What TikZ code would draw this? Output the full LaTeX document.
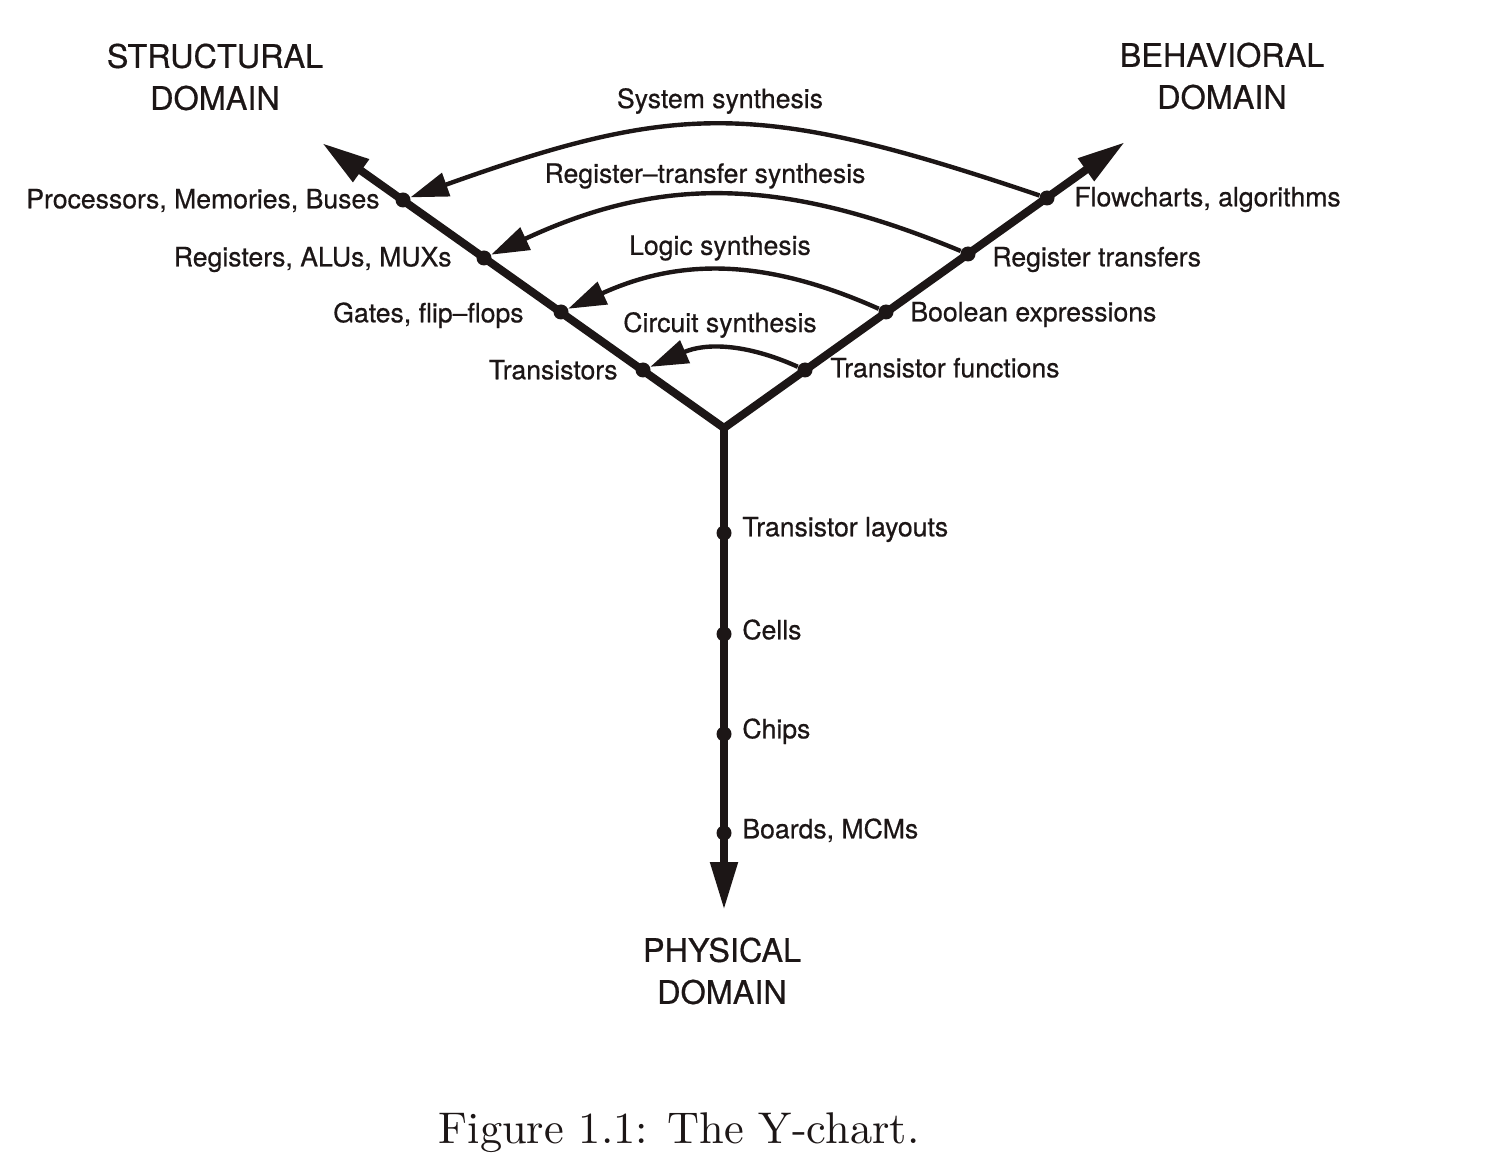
\documentclass[tikz,border=0pt]{standalone}
\usepackage{fontspec}
\newfontfamily\helv[FakeBold=0.6]{TeX Gyre Heros}
\newfontfamily\capfont{lmroman10-regular.otf}
\usetikzlibrary{arrows.meta}
\definecolor{ink}{RGB}{28,22,22}
\begin{document}
\begin{tikzpicture}[x=0.5pt,y=-0.5pt,
  lbl/.style={font=\helv\fontsize{13.3}{15}\selectfont, inner sep=0pt, text=ink},
  dom/.style={font=\helv\fontsize{16.2}{21}\selectfont, align=center, inner sep=0pt, text=ink},
  dotn/.style={circle, fill=ink, inner sep=0pt, minimum size=7.5pt},
  arm/.style={draw=ink, line width=4pt, -{Triangle[length=24pt,width=13pt,fill=ink]}},
  syn/.style={draw=ink, line width=2.2pt, -{Triangle[length=19pt,width=12pt,fill=ink]}}]
\useasboundingbox (0,0) rectangle (1500,1176);
% centre and arm ends
\coordinate (c) at (724,428);
\coordinate (sEnd) at (322,143);
\coordinate (bEnd) at (1125,142);
\coordinate (pEnd) at (724,910);
\draw[arm] (c) -- (sEnd);
\draw[arm] (c) -- (bEnd);
\draw[arm] (c) -- (pEnd);
% dots
\node[dotn] (s1) at (403,200) {};
\node[dotn] (s2) at (484,258) {};
\node[dotn] (s3) at (561,312) {};
\node[dotn] (s4) at (643,370) {};
\node[dotn] (b1) at (1047,198) {};
\node[dotn] (b2) at (968,254) {};
\node[dotn] (b3) at (886,312) {};
\node[dotn] (b4) at (805,370) {};
\node[dotn] (p1) at (724,533) {};
\node[dotn] (p2) at (724,634) {};
\node[dotn] (p3) at (724,734) {};
\node[dotn] (p4) at (724,833) {};
% synthesis arcs
\draw[syn] (b1) .. controls (760,101) and (680,101) .. (s1);
\draw[syn] (b2) .. controls (780,176) and (660,176) .. (s2);
\draw[syn] (b3) .. controls (765,258) and (680,258) .. (s3);
\draw[syn] (b4) .. controls (745,343) and (705,343) .. (s4);
% labels
\node[lbl, anchor=mid east] (ls1) at (380,204) {Processors, Memories, Buses};
\node[lbl, anchor=mid east] (ls2) at (452,262) {Registers, ALUs, MUXs};
\node[lbl, anchor=mid east] (ls3) at (524,318) {Gates, flip–flops};
\node[lbl, anchor=mid east] (ls4) at (618,375) {Transistors};
\node[lbl, anchor=mid west] (lb1) at (1074,202) {Flowcharts, algorithms};
\node[lbl, anchor=mid west] (lb2) at (992,262) {Register transfers};
\node[lbl, anchor=mid west] (lb3) at (910,317) {Boolean expressions};
\node[lbl, anchor=mid west] (lb4) at (830,373) {Transistor functions};
\node[lbl, anchor=mid west] (lp1) at (742,532) {Transistor layouts};
\node[lbl, anchor=mid west] (lp2) at (742,635) {Cells};
\node[lbl, anchor=mid west] (lp3) at (742,734) {Chips};
\node[lbl, anchor=mid west] (lp4) at (742,834) {Boards, MCMs};
\node[lbl] (t1) at (720,101) {System synthesis};
\node[lbl] (t2) at (705,176) {Register–transfer synthesis};
\node[lbl] (t3) at (720,248) {Logic synthesis};
\node[lbl] (t4) at (720,325) {Circuit synthesis};
% domains
\node[dom] (dS) at (215,77) {STRUCTURAL\\DOMAIN};
\node[dom] (dB) at (1222,76) {BEHAVIORAL\\DOMAIN};
\node[dom] (dP) at (722,971) {PHYSICAL\\DOMAIN};
% caption
\node[font=\capfont\fontsize{22.2}{26}\selectfont, inner sep=0pt, anchor=base, text=ink] (cap) at (679,1143) {Figure 1.1: The Y-chart.};
\end{tikzpicture}
\end{document}
